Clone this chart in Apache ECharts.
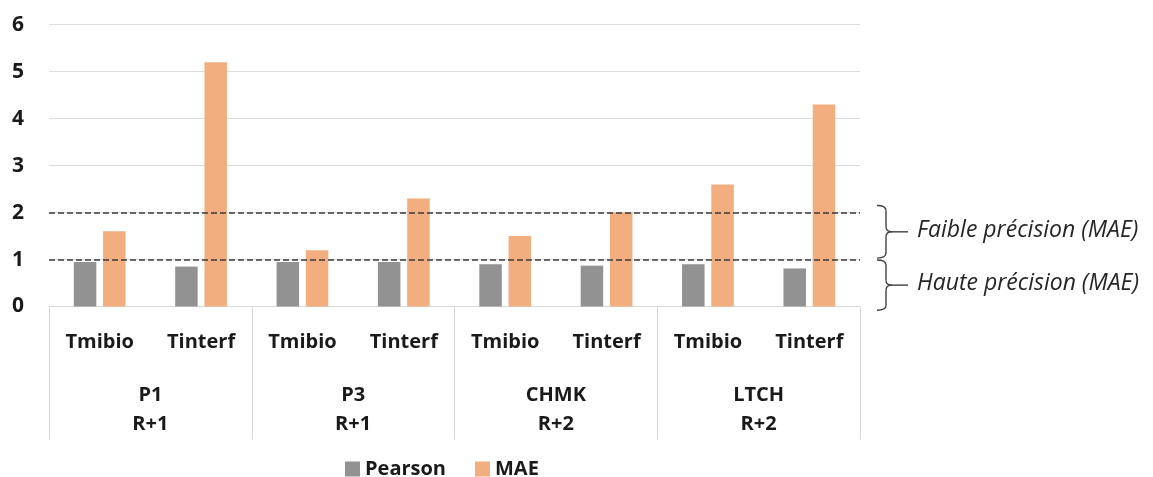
<!DOCTYPE html>
<html>
<head>
<meta charset="utf-8">
<script src="https://cdn.jsdelivr.net/npm/echarts@6/dist/echarts.min.js"></script>
<style>
html,body{margin:0;padding:0;background:#fff;}
#chart{width:1153px;height:477px;}
</style>
</head>
<body>
<div id="chart"></div>
<script>
// ---- data ----
const subCategories = ["Tmibio","Tinterf","Tmibio","Tinterf","Tmibio","Tinterf","Tmibio","Tinterf"];
const groups = ["P1\nR+1","P3\nR+1","CHMK\nR+2","LTCH\nR+2"];
const pearson = [0.95, 0.85, 0.95, 0.95, 0.90, 0.87, 0.90, 0.81];
const mae = [1.6, 5.2, 1.2, 2.3, 1.5, 2.0, 2.6, 4.3];
const thresholds = [1, 2];
const annotations = [
  {text: "Faible précision (MAE)", from: 2.15, to: 1.03},
  {text: "Haute précision (MAE)", from: 0.99, to: -0.08}
];
const yTicks = {min: 0, max: 6, interval: 1};

const FONT = '"Open Sans", "DejaVu Sans", sans-serif';
const chart = echarts.init(document.getElementById('chart'), null, {renderer: 'canvas'});

const option = {
  backgroundColor: '#ffffff',
  animation: false,
  grid: {left: 49, right: 293, top: 24.7, bottom: 170.5, containLabel: false},
  legend: {
    left: 340, top: 454,
    itemWidth: 15, itemHeight: 15, itemGap: 29,
    icon: 'rect',
    textStyle: {fontFamily: FONT, fontWeight: 'bold', fontSize: 20, color: '#1a1a1a'},
    data: ['Pearson', 'MAE']
  },
  xAxis: [
    {
      type: 'category', data: subCategories, position: 'bottom',
      axisLine: {show: true, lineStyle: {color: '#d9d9d9', width: 1}},
      axisTick: {show: false},
      axisLabel: {interval: 0, margin: 26, fontFamily: FONT, fontWeight: 'bold', fontSize: 20, color: '#1a1a1a'},
      splitLine: {show: false}
    },
    {
      type: 'category', data: groups, position: 'bottom',
      axisLine: {show: false},
      axisTick: {show: true, interval: 0, length: 133, lineStyle: {color: '#d9d9d9', width: 1}},
      axisLabel: {interval: 0, margin: 74, fontFamily: FONT, fontWeight: 'bold', fontSize: 20, lineHeight: 29, color: '#1a1a1a'},
      splitLine: {show: false}
    }
  ],
  yAxis: {
    type: 'value', min: yTicks.min, max: yTicks.max, interval: yTicks.interval,
    axisLine: {show: false}, axisTick: {show: false},
    axisLabel: {margin: 25, fontFamily: FONT, fontWeight: 'bold', fontSize: 21, color: '#1a1a1a'},
    splitLine: {lineStyle: {color: '#dcdcdc', width: 1.2}}
  },
  series: [
    {
      name: 'Pearson', type: 'bar', xAxisIndex: 0, data: pearson,
      barWidth: 22.5, barGap: '30%',
      itemStyle: {color: '#929292'},
      markLine: {
        silent: true, symbol: ['none','none'],
        label: {show: false},
        lineStyle: {color: '#3a3a3a', type: [6, 3], width: 1.5},
        data: thresholds.map(v => ({yAxis: v}))
      }
    },
    {
      name: 'MAE', type: 'bar', xAxisIndex: 0, data: mae,
      barWidth: 22.5, barGap: '30%',
      itemStyle: {color: '#f2ae7f'}
    }
  ]
};
chart.setOption(option);

// annotation braces placed through the y scale
const braceStyle = {fill: 'none', stroke: '#404040', lineWidth: 1.4};
function brace(x0, y1, y2) {
  const xv = x0 + 9, xt = x0 + 15, r = 5;
  const ym = (y1 + y2) / 2;
  const curve = (ax, ay, cx, cy, bx, by) => ({type: 'bezierCurve', silent: true,
    shape: {x1: ax, y1: ay, cpx1: cx, cpy1: cy, x2: bx, y2: by}, style: braceStyle});
  const line = (ax, ay, bx, by) => ({type: 'line', silent: true,
    shape: {x1: ax, y1: ay, x2: bx, y2: by}, style: braceStyle});
  return [
    curve(x0, y1, xv, y1, xv, y1 + r),
    line(xv, y1 + r, xv, ym - r),
    curve(xv, ym - r, xv, ym, xt, ym),
    curve(xt, ym, xv, ym, xv, ym + r),
    line(xv, ym + r, xv, y2 - r),
    curve(xv, y2 - r, xv, y2, x0, y2),
    line(xt, ym, x0 + 31, ym)
  ];
}
let graphics = [];
annotations.forEach(a => {
  const y1 = chart.convertToPixel({yAxisIndex: 0}, a.from);
  const y2 = chart.convertToPixel({yAxisIndex: 0}, a.to);
  graphics = graphics.concat(brace(877, y1, y2));
  graphics.push({
    type: 'text', left: 917, top: (y1 + y2) / 2 - 13, silent: true,
    style: {text: a.text, fontFamily: FONT, fontStyle: 'italic', fontSize: 23, fill: '#262626'}
  });
});
chart.setOption({graphic: graphics});
</script>
</body>
</html>
